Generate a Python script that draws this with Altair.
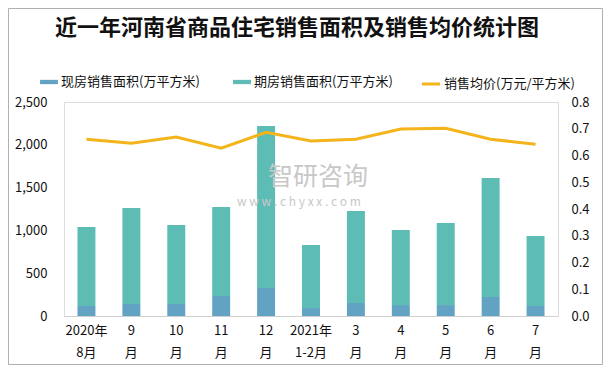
import altair as alt
import pandas as pd

title_text = "近一年河南省商品住宅销售面积及销售均价统计图"
months = ["2020年\n8月", "9\n月", "10\n月", "11\n月", "12\n月", "2021年\n1-2月",
          "3\n月", "4\n月", "5\n月", "6\n月", "7\n月"]
xianfang = [117, 140, 140, 234, 327, 93, 152, 128, 128, 222, 117]
total = [1040, 1262, 1063, 1273, 2220, 829, 1227, 1005, 1086, 1612, 935]
qifang = [t - x for t, x in zip(total, xianfang)]
price = [0.661, 0.646, 0.669, 0.627, 0.687, 0.654, 0.661, 0.699, 0.702, 0.661, 0.642]

s1 = "现房销售面积(万平方米)"
s2 = "期房销售面积(万平方米)"
s3 = "销售均价(万元/平方米)"

rows = []
for i, m in enumerate(months):
    rows.append({"m": m, "i": i, "s": s1, "v": xianfang[i], "o": 0})
    rows.append({"m": m, "i": i, "s": s2, "v": qifang[i], "o": 1})
bars_df = pd.DataFrame(rows)
line_df = pd.DataFrame({"m": months, "p": price, "s": s3})

FONT = "Noto Sans CJK SC"
FS = 13
x_enc = alt.X("m:N", sort=months, title=None,
              scale=alt.Scale(paddingInner=0.6, paddingOuter=0.3),
              axis=alt.Axis(labelAngle=0, labelExpr="split(datum.label, '\\n')",
                            ticks=False, domainColor="#d0d0d0", labelFontSize=FS,
                            labelColor="#111", labelFont=FONT, labelPadding=8,
                            labelLineHeight=22))

bars = alt.Chart(bars_df).mark_bar().encode(
    x=x_enc,
    y=alt.Y("sum(v):Q", title=None,
            scale=alt.Scale(domain=[0, 2500]),
            axis=alt.Axis(values=[0, 500, 1000, 1500, 2000, 2500], format=",.0f",
                          grid=False, domain=False, ticks=False, labelFontSize=FS,
                          labelColor="#111", labelFont=FONT, labelPadding=17)),
    color=alt.Color("s:N", sort=[s1, s2], title=None,
                    scale=alt.Scale(domain=[s1, s2], range=["#62A3C3", "#5DBDB5"]),
                    legend=alt.Legend(orient="none", legendX=-24, legendY=-29,
                                      direction="horizontal",
                                      symbolType="M-1,-0.24L1,-0.24L1,0.24L-1,0.24Z",
                                      symbolSize=320, symbolStrokeWidth=0,
                                      labelFontSize=FS, labelFont=FONT, labelColor="#111",
                                      columnPadding=33, labelOffset=3, labelLimit=300)),
    order=alt.Order("o:Q"),
)

line = alt.Chart(line_df).mark_line(strokeWidth=3).encode(
    x=alt.X("m:N", sort=months),
    y=alt.Y("p:Q", title=None, scale=alt.Scale(domain=[0, 0.8]),
            axis=alt.Axis(values=[0, 0.1, 0.2, 0.3, 0.4, 0.5, 0.6, 0.7, 0.8],
                          format=".1f", orient="right", grid=False, domain=False,
                          ticks=False, labelFontSize=FS, labelColor="#111",
                          labelFont=FONT, labelPadding=13)),
    stroke=alt.Stroke("s:N", title=None,
                      scale=alt.Scale(domain=[s3], range=["#F4B41C"]),
                      legend=alt.Legend(orient="none", legendX=356, legendY=-29,
                                        symbolType="M-1,0L1,0", symbolSize=330,
                                        symbolStrokeWidth=3, labelFontSize=FS,
                                        labelFont=FONT, labelColor="#111", labelOffset=2,
                                        labelLimit=300)),
)

title = alt.Chart(pd.DataFrame({"t": [title_text]})).mark_text(
    color="#111", font=FONT, fontSize=22, fontWeight="bold", align="center",
    baseline="middle").encode(text="t:N", x=alt.value(233), y=alt.value(-74))

wm1 = alt.Chart(pd.DataFrame({"t": ["智研咨询"]})).mark_text(
    color="#c8c8c8", font=FONT, align="left", fontSize=25).encode(
    text="t:N", x=alt.value(204), y=alt.value(75))
wm2 = alt.Chart(pd.DataFrame({"t": ["w w w . c h y x x . c o m"]})).mark_text(
    color="#c8c8c8", font=FONT, align="left", fontSize=12).encode(
    text="t:N", x=alt.value(173), y=alt.value(100))

border = alt.Chart(pd.DataFrame({"a": [0]})).mark_rect(
    fill=None, stroke="#b0b0b0", strokeWidth=1).encode(
    x=alt.value(-55.5), x2=alt.value(494 + 44.5), y=alt.value(-93.5), y2=alt.value(214 + 48.5))

chart = alt.layer(bars, wm1, wm2, line, title, border).resolve_scale(y="independent").properties(
    width=494, height=214,
    autosize=alt.AutoSizeParams(type="none"),
    padding={"left": 56, "top": 94, "right": 46, "bottom": 49},
).configure_view(stroke=None).configure(background="white")

chart.save("out.html", embed_options={"renderer": "svg", "actions": False})
